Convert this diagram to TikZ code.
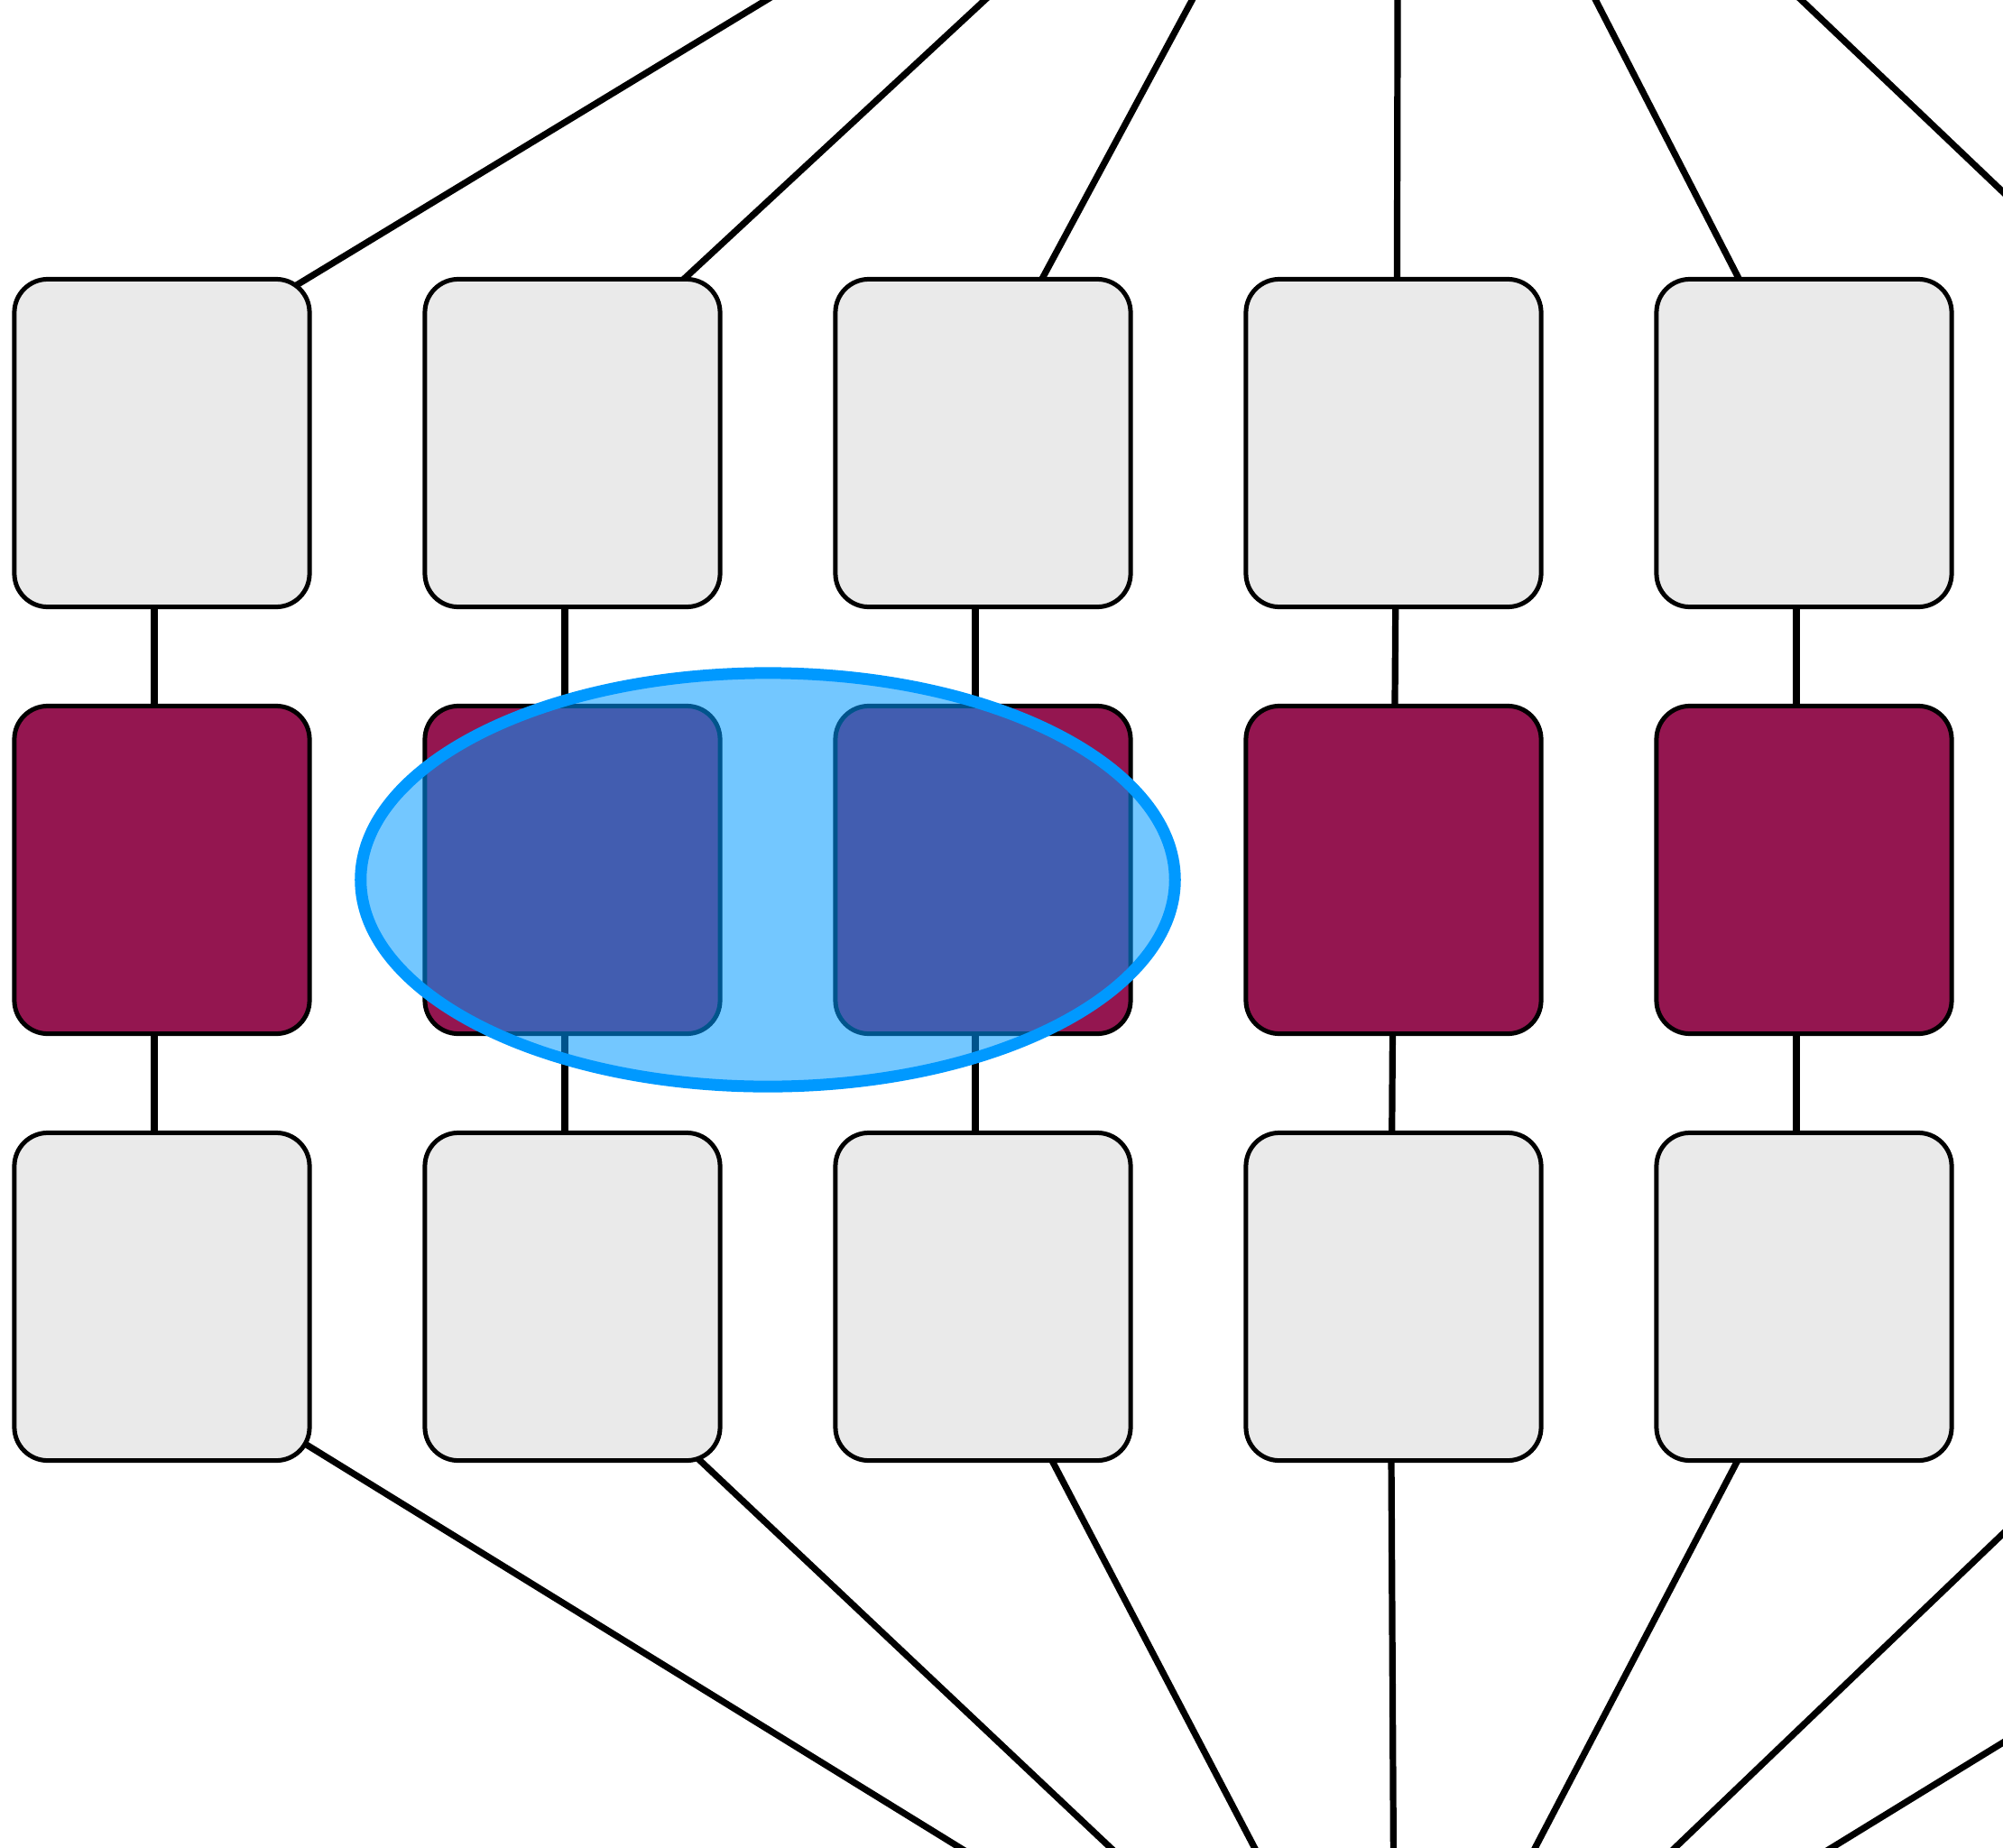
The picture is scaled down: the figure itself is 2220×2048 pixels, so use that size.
\documentclass[tikz,border=0pt]{standalone}
\usetikzlibrary{shapes.geometric}
\pgfdeclarelayer{background}
\pgfsetlayers{background,main}
\definecolor{boxgray}{RGB}{234,234,234}
\definecolor{boxred}{RGB}{148,22,80}
\definecolor{selblue}{RGB}{0,153,255}
\begin{document}
\begin{tikzpicture}[x=0.01cm,y=-0.01cm,
  box/.style={draw=black, line width=0.05cm, rounded corners=0.37cm,
    minimum width=3.27cm, minimum height=3.63cm, inner sep=0pt, outer sep=0pt},
  plain/.style={box, fill=boxgray},
  marked/.style={box, fill=boxred},
  link/.style={draw=black, line width=0.072cm},
  sel/.style={ellipse, draw=selblue, line width=0.13cm, fill=selblue,
    fill opacity=0.55, draw opacity=1, minimum width=9.02cm,
    minimum height=4.58cm, inner sep=0pt}]
\useasboundingbox (0,0) rectangle (2220,2048);
\clip (0,0) rectangle (2220,2048);

% hubs and off-picture ends
\coordinate (hubT) at (1550,-425);
\coordinate (hubB) at (1546,2345);
\coordinate (c6t) at (2300,289);
\coordinate (c6b) at (2300,1623);
\coordinate (c7b) at (2300,1882);

% row 1
\node[plain] (r1c1) at (179.5,491) {};
\node[plain] (r1c2) at (634.5,491) {};
\node[plain] (r1c3) at (1089.5,491) {};
\node[plain] (r1c4) at (1544.5,491) {};
\node[plain] (r1c5) at (1999.5,491) {};
% row 2
\node[marked] (r2c1) at (179.5,964) {};
\node[marked] (r2c2) at (634.5,964) {};
\node[marked] (r2c3) at (1089.5,964) {};
\node[marked] (r2c4) at (1544.5,964) {};
\node[marked] (r2c5) at (1999.5,964) {};
% row 3
\node[plain] (r3c1) at (179.5,1437) {};
\node[plain] (r3c2) at (634.5,1437) {};
\node[plain] (r3c3) at (1089.5,1437) {};
\node[plain] (r3c4) at (1544.5,1437) {};
\node[plain] (r3c5) at (1999.5,1437) {};

\begin{pgfonlayer}{background}
\clip (0,0) rectangle (2220,2048);
% top fan
\draw[link] (hubT) -- ([shift={(93.4,-141.2)}]r1c1.center);
\draw[link] (hubT) -- ([shift={(82.3,-143.6)}]r1c2.center);
\draw[link] (hubT) -- ([shift={(38.3,-131.5)}]r1c3.center);
\draw[link] (hubT) -- ([shift={(3.7,-90.5)}]r1c4.center);
\draw[link] (hubT) -- ([shift={(-46.5,-132)}]r1c5.center);
\draw[link] (hubT) -- (c6t);
% verticals
\foreach \c in {1,2,3,5}{
  \draw[link] ([xshift=-0.085cm]r1c\c.center) -- ([xshift=-0.085cm]r2c\c.center);
  \draw[link] ([xshift=-0.085cm]r2c\c.center) -- ([xshift=-0.085cm]r3c\c.center);
}
\draw[link] ([xshift=0.035cm]r1c4.center) -- ([xshift=0.002cm]r2c4.center);
\draw[link] ([xshift=0.002cm]r2c4.center) -- ([xshift=-0.03cm]r3c4.center);
% bottom fan
\draw[link] ([shift={(102.4,128.4)}]r3c1.center) -- (hubB);
\draw[link] ([shift={(97.8,140.5)}]r3c2.center) -- (hubB);
\draw[link] ([shift={(50,131)}]r3c3.center) -- (hubB);
\draw[link] ([shift={(-3,83.5)}]r3c4.center) -- (hubB);
\draw[link] ([shift={(-47.2,131)}]r3c5.center) -- (hubB);
\draw[link] (c6b) -- (hubB);
\draw[link] (c7b) -- (hubB);
\end{pgfonlayer}

% selection ellipse
\node[sel] (group) at (851,975) {};
\end{tikzpicture}
\end{document}
